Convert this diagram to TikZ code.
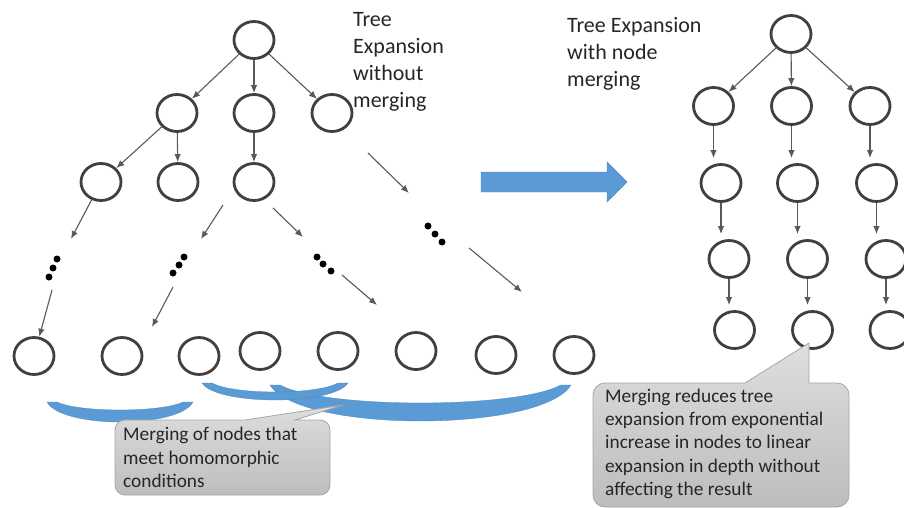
\documentclass[tikz,border=0pt]{standalone}
\usepackage{fontspec}
\setmainfont{Carlito}
\usepackage{tikz}
\usetikzlibrary{arrows.meta,shapes.geometric}
\definecolor{mergeblue}{HTML}{5B9BD5}
\definecolor{mergeedge}{HTML}{4A86BE}
\definecolor{nodegray}{HTML}{404040}
\definecolor{arrowgray}{HTML}{595959}
\definecolor{bubbletop}{HTML}{DEDEDE}
\definecolor{bubblebot}{HTML}{BDBDBD}
\definecolor{bubbleline}{HTML}{A6A6A6}
\definecolor{textdark}{HTML}{262626}

\begin{document}
\begin{tikzpicture}[x=1pt, y=-1pt,
  tnode/.style={ellipse, draw=nodegray, line width=2.8pt, minimum width=40pt,
                minimum height=37pt, inner sep=0pt},
  arrow/.style={-{Latex[length=8pt,width=6.5pt]}, line width=1.1pt, draw=arrowgray},
  title/.style={anchor=north west, align=left, inner sep=0pt,
                font=\fontsize{22}{27}\selectfont, text=textdark},
  note/.style={anchor=north west, align=left, inner sep=0pt,
               font=\fontsize{19.3}{23.4}\selectfont, text=textdark},
  bubble/.style={draw=bubbleline, line width=0.8pt, top color=bubbletop,
                 bottom color=bubblebot},
  brace/.style={fill=mergeblue, draw=mergeedge, line width=0.3pt}
]
\useasboundingbox (0,0) rectangle (904,508);

% tree without merging
\node[tnode] (r0) at (254,40) {};
\node[tnode] (a1) at (177,113) {};
\node[tnode] (a2) at (254,113) {};
\node[tnode] (a3) at (332,113) {};
\node[tnode] (b1) at (101,182) {};
\node[tnode] (b2) at (178,182) {};
\node[tnode] (b3) at (254,182) {};
\foreach \x/\y [count=\i] in {34/356,122/356,199/356,260/351,338/351,416/351,496/355,574/355}
  \node[tnode] (c\i) at (\x,\y) {};

\draw[arrow] (r0) -- (a1);
\draw[arrow] (r0) -- (a2);
\draw[arrow] (r0) -- (a3);
\draw[arrow] (a1) -- (b1);
\draw[arrow] (a1) -- (b2);
\draw[arrow] (a2) -- (b3);

\coordinate (f1) at (71,239);
\coordinate (f2s) at (223,205);  \coordinate (f2e) at (201,239);
\coordinate (f3s) at (273,208);  \coordinate (f3e) at (303,237);
\coordinate (f4s) at (368,153);  \coordinate (f4e) at (409,193);
\coordinate (f5s) at (52,290);
\coordinate (f6s) at (173,287);  \coordinate (f6e) at (152,327);
\coordinate (f7s) at (342,275);  \coordinate (f7e) at (377,305);
\coordinate (f8s) at (469,248);  \coordinate (f8e) at (522,292);
\draw[arrow] (b1) -- (f1);
\draw[arrow] (f2s) -- (f2e);
\draw[arrow] (f3s) -- (f3e);
\draw[arrow] (f4s) -- (f4e);
\draw[arrow] (f5s) -- (c1);
\draw[arrow] (f6s) -- (f6e);
\draw[arrow] (f7s) -- (f7e);
\draw[arrow] (f8s) -- (f8e);

% dots
\foreach \x/\y in {57/259,53/268,49/277, 184/257,179/265,173/273,
                   317/257,323/264,331/271, 428/226,435/234,442/242}
  \fill (\x,\y) circle[radius=3.5];

\node[title] (lefttitle) at (353,12.5) {Tree\\Expansion\\without\\merging};

% merged groups
\foreach \a/\b/\y/\p/\q in {270/571/385/18/36, 47/193/402/8/20, 202/348/383/9/17}
  \path[brace] (\a,\y) -- (\a+10,\y)
    .. controls (\a+10+0.15*\b-0.15*\a,\y+1.333*\p) and (\b-10-0.15*\b+0.15*\a,\y+1.333*\p) .. (\b-10,\y)
    -- (\b,\y)
    .. controls (\b-0.1*\b+0.1*\a,\y+1.333*\q) and (\a+0.1*\b-0.1*\a,\y+1.333*\q) .. (\a,\y) -- cycle;

\draw[bubble] (125,420) -- (245,420) -- (343,405) -- (295,420) -- (320,420)
  arc[start angle=-90, end angle=0, radius=10] -- (330,485)
  arc[start angle=0, end angle=90, radius=10] -- (125,495)
  arc[start angle=90, end angle=180, radius=10] -- (115,430)
  arc[start angle=180, end angle=270, radius=10] -- cycle;
\node[note] (note1) at (123,427) {Merging of nodes that\\meet homomorphic\\conditions};

% big arrow
\draw[fill=mergeblue, draw=mergeedge, line width=0.4pt] (481,172) -- (607,172) -- (607,162)
  -- (627,182) -- (607,202) -- (607,192) -- (481,192) -- cycle;

% tree with node merging
\node[title] (righttitle) at (567,17) {Tree Expansion\\with node\\merging};
\node[tnode] (s0) at (791,34) {};
\foreach \x/\y [count=\c] in {713.5/106,791.5/106,870/106} \node[tnode] (s1\c) at (\x,\y) {};
\foreach \x/\y [count=\c] in {721/183,797.5/183,876.5/183} \node[tnode] (s2\c) at (\x,\y) {};
\foreach \x/\y [count=\c] in {729/259,807.5/259,886/259} \node[tnode] (s3\c) at (\x,\y) {};
\foreach \x/\y [count=\c] in {734.5/330,812.5/330,890/330} \node[tnode] (s4\c) at (\x,\y) {};

\foreach \c in {1,2,3} {
  \draw[arrow] (s0) -- (s1\c);
  \foreach \r/\n in {1/2,2/3,3/4}
    \draw[arrow, shorten >=5pt] (s\r\c.south) -- (s\r\c.south |- s\n\c.north);
}

\draw[bubble] (605,383) -- (745,383) -- (809,343) -- (809,383) -- (837,383)
  arc[start angle=-90, end angle=0, radius=12] -- (849,495)
  arc[start angle=0, end angle=90, radius=12] -- (605,507)
  arc[start angle=90, end angle=180, radius=12] -- (593,395)
  arc[start angle=180, end angle=270, radius=12] -- cycle;
\node[note] (note2) at (605,388.5)
  {Merging reduces tree\\expansion from exponential\\increase in nodes to linear\\expansion in depth without\\affecting the result};
\end{tikzpicture}
\end{document}
